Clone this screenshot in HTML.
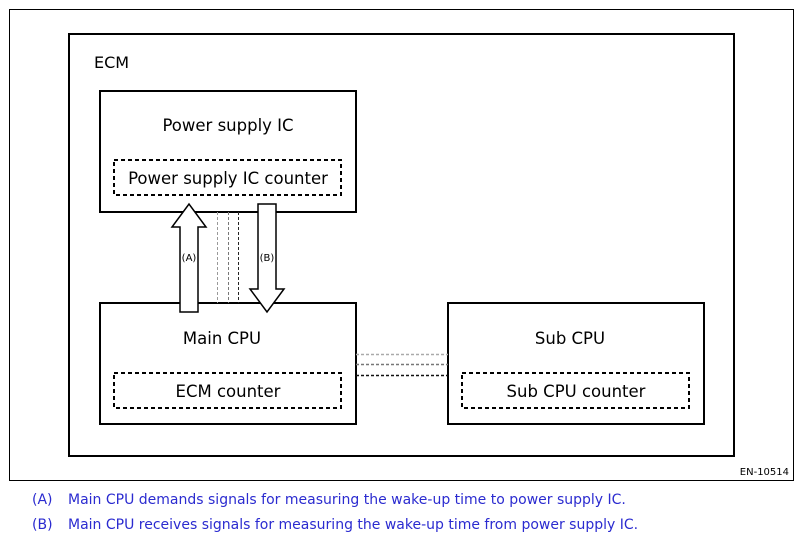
<!DOCTYPE html>
<html><head><style>
body{margin:0;background:#fff;width:803px;height:542px;overflow:hidden}
svg{display:block}
text{font-family:"DejaVu Sans","Liberation Sans",sans-serif}
</style></head><body>
<svg width="803" height="542" viewBox="0 0 803 542">
<rect x="9.5" y="9.5" width="784" height="471" fill="none" stroke="#000" stroke-width="1"/>
<rect x="69" y="34" width="665" height="422" fill="none" stroke="#000" stroke-width="2"/>
<text x="94" y="68" font-size="16">ECM</text>
<rect x="100" y="91" width="256" height="121" fill="#fff" stroke="#000" stroke-width="2"/>
<text x="228" y="131" font-size="16.5" text-anchor="middle">Power supply IC</text>
<rect x="114" y="160" width="227" height="35" fill="none" stroke="#000" stroke-width="2" stroke-dasharray="4,3"/>
<text x="228" y="184" font-size="16.5" text-anchor="middle">Power supply IC counter</text>
<rect x="100" y="303" width="256" height="121" fill="#fff" stroke="#000" stroke-width="2"/>
<text x="222" y="344" font-size="16.5" text-anchor="middle">Main CPU</text>
<rect x="114" y="373" width="227" height="35" fill="none" stroke="#000" stroke-width="2" stroke-dasharray="4,3"/>
<text x="228" y="397" font-size="16.5" text-anchor="middle">ECM counter</text>
<rect x="448" y="303" width="256" height="121" fill="#fff" stroke="#000" stroke-width="2"/>
<text x="570" y="344" font-size="16.5" text-anchor="middle">Sub CPU</text>
<rect x="462" y="373" width="227" height="35" fill="none" stroke="#000" stroke-width="2" stroke-dasharray="4,3"/>
<text x="576" y="397" font-size="16.5" text-anchor="middle">Sub CPU counter</text>
<g stroke-width="1" stroke-dasharray="3,2">
<line x1="217.5" y1="212" x2="217.5" y2="303" stroke="#999"/>
<line x1="228.5" y1="212" x2="228.5" y2="303" stroke="#777"/>
<line x1="238.5" y1="212" x2="238.5" y2="303" stroke="#222"/>
<line x1="356" y1="354.5" x2="448" y2="354.5" stroke="#aaa" stroke-width="1.5"/>
<line x1="356" y1="364.5" x2="448" y2="364.5" stroke="#777" stroke-width="1.5"/>
<line x1="356" y1="375.5" x2="448" y2="375.5" stroke="#111" stroke-width="1.5"/>
</g>
<polygon points="180,312 180,227 172,227 189,204 206,227 198,227 198,312" fill="#fff" stroke="#000" stroke-width="1.5"/>
<polygon points="258,204 276,204 276,289 284,289 267,312 250,289 258,289" fill="#fff" stroke="#000" stroke-width="1.5"/>
<text x="189" y="261" font-size="10" text-anchor="middle">(A)</text>
<text x="267" y="261" font-size="10" text-anchor="middle">(B)</text>
<text x="789" y="475" font-size="10" text-anchor="end">EN-10514</text>
<text x="32" y="504" font-size="14" fill="#2b2bd0">(A)</text>
<text x="68" y="504" font-size="14" fill="#2b2bd0">Main CPU demands signals for measuring the wake-up time to power supply IC.</text>
<text x="32" y="529" font-size="14" fill="#2b2bd0">(B)</text>
<text x="68" y="529" font-size="14" fill="#2b2bd0">Main CPU receives signals for measuring the wake-up time from power supply IC.</text>
</svg>
</body></html>
